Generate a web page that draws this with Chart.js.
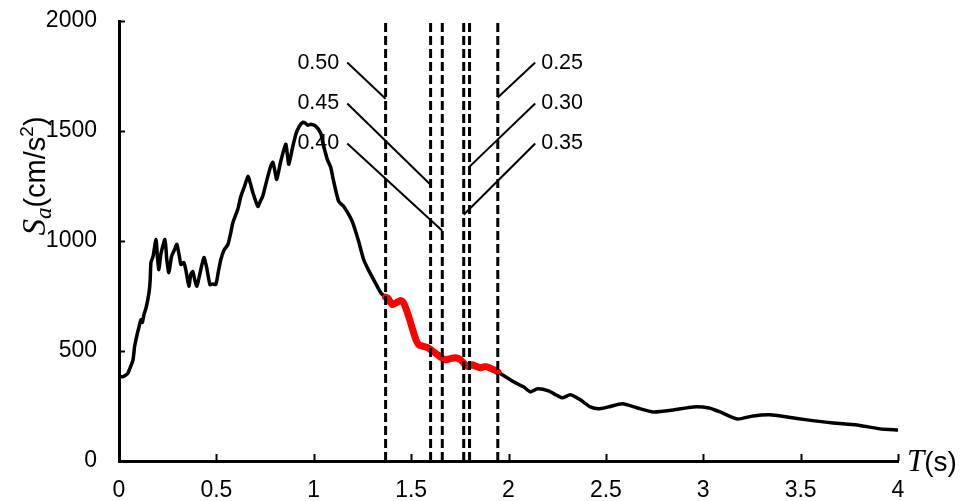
<!DOCTYPE html>
<html>
<head>
<meta charset="utf-8">
<script src="https://cdn.jsdelivr.net/npm/chart.js@4.4.0/dist/chart.umd.min.js"></script>
<style>
  html, body { margin: 0; padding: 0; background: #fff; }
</style>
</head>
<body>
<canvas id="grafica" width="964" height="501"></canvas>
<script>
// Espectro de respuesta: periodo T (s) y Sa (cm/s2)
const periodos = [
  0.005, 0.02, 0.035, 0.046, 0.06, 0.072, 0.08, 0.087, 0.10, 0.113, 0.12, 0.128, 0.14, 0.154, 0.16, 0.164,
  0.175, 0.19, 0.197, 0.205, 0.215, 0.236, 0.245, 0.256, 0.27, 0.285, 0.297, 0.31, 0.318, 0.333, 0.345,
  0.359, 0.369, 0.379, 0.39, 0.40, 0.415, 0.436, 0.45, 0.467, 0.48, 0.497, 0.51, 0.523, 0.54, 0.559,
  0.572, 0.585, 0.61, 0.625, 0.645, 0.662, 0.675, 0.687, 0.713, 0.725, 0.738, 0.76, 0.779, 0.79, 0.80,
  0.81, 0.83, 0.856, 0.865, 0.872, 0.89, 0.908, 0.925, 0.944, 0.958, 0.969, 0.985, 1.01, 1.036, 1.046,
  1.07, 1.087, 1.10, 1.128, 1.154, 1.18, 1.20, 1.23, 1.256, 1.28, 1.31, 1.344, 1.369, 1.38, 1.405,
  1.425, 1.446, 1.46, 1.472, 1.49, 1.508, 1.525, 1.54, 1.56, 1.585, 1.61, 1.636, 1.655, 1.677, 1.70,
  1.728, 1.754, 1.775, 1.79, 1.815, 1.835, 1.856, 1.875, 1.89, 1.91, 1.933, 1.945, 2.026, 2.077, 2.113,
  2.149, 2.205, 2.245, 2.277, 2.318, 2.369, 2.42, 2.462, 2.513, 2.585, 2.662, 2.744, 2.846, 2.949, 3.03,
  3.087, 3.174, 3.256, 3.344, 3.431, 3.533, 3.667, 3.79, 3.908, 4.0
];
const sa = [
  385, 383, 390, 400, 430, 460, 520, 551, 600, 642, 630, 665, 700, 765, 820, 902,
  930, 1007, 930, 870, 940, 1007, 920, 856, 930, 960, 985, 930, 893, 902, 860,
  795, 850, 861, 820, 795, 850, 925, 880, 802, 805, 802, 860, 916, 960, 984,
  1030, 1084, 1144, 1200, 1250, 1294, 1260, 1221, 1157, 1180, 1203, 1280, 1340, 1358, 1320,
  1280, 1360, 1440, 1390, 1349, 1420, 1485, 1520, 1540, 1535, 1526, 1531, 1522, 1490, 1449,
  1370, 1335, 1280, 1180, 1157, 1120, 1084, 1000, 916, 870, 820, 765, 745, 740, 711,
  720, 730, 720, 697, 650, 597, 550, 528, 522, 515, 500, 483, 470, 460, 465,
  469, 460, 440, 430, 437, 430, 424, 428, 428, 420, 412, 405, 360, 337, 314,
  328, 319, 300, 287, 301, 278, 246, 237, 246, 260, 241, 223, 232, 246, 241,
  223, 191, 205, 210, 200, 187, 173, 164, 146, 141
];

// lineas discontinuas (periodos marcados)
const marcas = [1.369, 1.60, 1.66, 1.77, 1.80, 1.945];

// etiquetas y lineas guia
const etiquetas = ['0.50', '0.45', '0.40', '0.25', '0.30', '0.35'];
const etiquetaSa = [1811, 1625, 1443, 1811, 1625, 1443];
const guiaInicioT = [1.172, 1.172, 1.172, 2.137, 2.137, 2.137];
const guiaFinT = [1.369, 1.60, 1.66, 1.945, 1.80, 1.77];
const guiaFinSa = [1647, 1256, 1047, 1652, 1338, 1119];

const xTicks = [0, 0.5, 1, 1.5, 2, 2.5, 3, 3.5, 4];
const xTickLabels = ['0', '0.5', '1', '1.5', '2', '2.5', '3', '3.5', '4'];
const yTicks = [0, 500, 1000, 1500, 2000];
const yTickLabels = ['0', '500', '1000', '1500', '2000'];

const fuente = "'Liberation Sans', Arial, sans-serif";
const serif = "'Liberation Serif', 'Times New Roman', serif";

const puntos = periodos.map((t, i) => ({x: t, y: sa[i]}));
const tramoRojo = puntos.filter(p => p.x >= marcas[0] && p.x <= marcas[marcas.length - 1]);

const datasets = [];
marcas.forEach(t => {
  datasets.push({
    data: [{x: t, y: 0}, {x: t, y: 2000}],
    borderColor: '#000', borderWidth: 3, borderDash: [9, 4],
    pointRadius: 0, showLine: true
  });
});
etiquetas.forEach((e, i) => {
  datasets.push({
    data: [{x: guiaInicioT[i], y: etiquetaSa[i]}, {x: guiaFinT[i], y: guiaFinSa[i]}],
    borderColor: '#000', borderWidth: 2,
    pointRadius: 0, showLine: true
  });
});
datasets.push({
  data: tramoRojo, borderColor: '#ff0000', borderWidth: 7,
  borderCapStyle: 'round', borderJoinStyle: 'round',
  pointRadius: 0, showLine: true, tension: 0.2
});
datasets.push({
  data: puntos, borderColor: '#000', borderWidth: 3.5,
  borderJoinStyle: 'round', pointRadius: 0, showLine: true, tension: 0.2
});

function trozos(ctx, partes, x, y) {
  let cx = x;
  partes.forEach(p => {
    ctx.font = p.font;
    ctx.fillText(p.t, cx, y + (p.dy || 0));
    cx += ctx.measureText(p.t).width;
  });
  return cx - x;
}
function anchoTrozos(ctx, partes) {
  let w = 0;
  partes.forEach(p => { ctx.font = p.font; w += ctx.measureText(p.t).width; });
  return w;
}

const extras = {
  id: 'extras',
  afterDraw(chart) {
    const {ctx, scales: {x, y}} = chart;
    ctx.save();
    // marcas de ticks hacia dentro
    ctx.strokeStyle = '#000';
    ctx.lineWidth = 2;
    xTicks.forEach(v => {
      const px = Math.round(x.getPixelForValue(v)) + 0.5;
      ctx.beginPath(); ctx.moveTo(px, y.bottom); ctx.lineTo(px, y.bottom - 7); ctx.stroke();
    });
    yTicks.forEach(v => {
      const py = Math.round(y.getPixelForValue(v)) + 0.5;
      ctx.beginPath(); ctx.moveTo(x.left, py); ctx.lineTo(x.left + 6, py); ctx.stroke();
    });

    // etiquetas de las guias
    ctx.fillStyle = '#000';
    ctx.font = '21.5px ' + fuente;
    ctx.textBaseline = 'middle';
    etiquetas.forEach((e, i) => {
      const px = x.getPixelForValue(guiaInicioT[i]);
      const py = y.getPixelForValue(etiquetaSa[i]);
      if (guiaInicioT[i] < guiaFinT[i]) {
        ctx.textAlign = 'right';
        ctx.fillText(e, px - 8, py);
      } else {
        ctx.textAlign = 'left';
        ctx.fillText(e, px + 6, py);
      }
    });

    // titulo eje y
    ctx.textAlign = 'left';
    ctx.textBaseline = 'alphabetic';
    const tituloY = [
      {t: 'S', font: 'italic 33px ' + serif},
      {t: 'a', font: 'italic 23px ' + serif, dy: 6},
      {t: '(cm/s', font: '29px ' + fuente},
      {t: '2', font: '19px ' + fuente, dy: -12},
      {t: ')', font: '29px ' + fuente}
    ];
    ctx.save();
    ctx.translate(45, 176);
    ctx.rotate(-Math.PI / 2);
    trozos(ctx, tituloY, -anchoTrozos(ctx, tituloY) / 2, 0);
    ctx.restore();

    // titulo eje x
    const tituloX = [
      {t: 'T', font: 'italic 31px ' + serif},
      {t: '(s)', font: '28px ' + fuente}
    ];
    trozos(ctx, tituloX, x.right + 9, y.bottom + 10);
    ctx.restore();
  }
};

new Chart(document.getElementById('grafica').getContext('2d'), {
  type: 'scatter',
  data: {datasets: datasets},
  options: {
    responsive: false,
    animation: false,
    layout: {padding: {top: 21, right: 66, left: 0, bottom: 0}},
    plugins: {legend: {display: false}, tooltip: {enabled: false}},
    scales: {
      x: {
        type: 'linear', min: 0, max: 4,
        grid: {display: false, drawTicks: false},
        border: {display: true, color: '#000', width: 3},
        afterBuildTicks: s => { s.ticks = xTicks.map(v => ({value: v})); },
        afterFit: s => { s.height = 40; s.paddingLeft = 0; s.paddingRight = 0; },
        ticks: {
          color: '#000', font: {family: fuente, size: 23}, padding: 16,
          maxRotation: 0, autoSkip: false,
          callback: (v) => xTickLabels[xTicks.indexOf(v)]
        }
      },
      y: {
        type: 'linear', min: 0, max: 2000,
        grid: {display: false, drawTicks: false},
        border: {display: true, color: '#000', width: 3},
        afterBuildTicks: s => { s.ticks = yTicks.map(v => ({value: v})); },
        afterFit: s => { s.width = 119; s.paddingTop = 0; s.paddingBottom = 0; },
        ticks: {
          color: '#000', font: {family: fuente, size: 23}, padding: 22,
          callback: (v) => yTickLabels[yTicks.indexOf(v)]
        }
      }
    }
  },
  plugins: [extras]
});
</script>
</body>
</html>
